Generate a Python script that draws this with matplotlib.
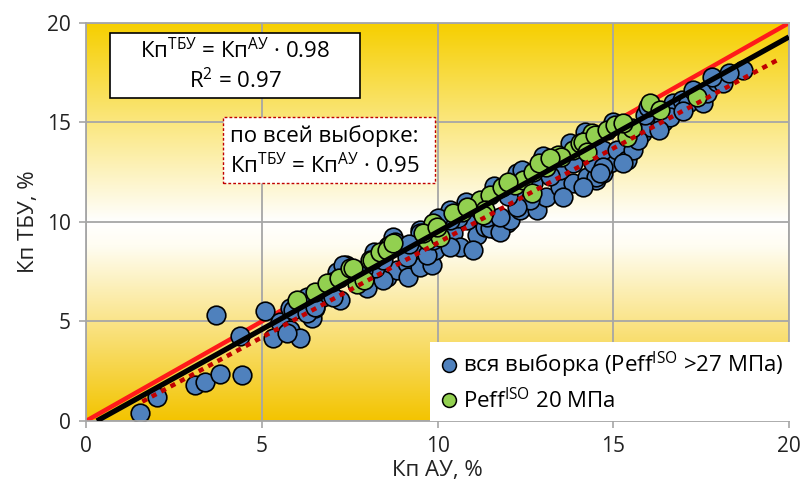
import numpy as np
import matplotlib
matplotlib.use("Agg")
import matplotlib.pyplot as plt
from matplotlib.colors import LinearSegmentedColormap
from matplotlib.patches import Rectangle
from matplotlib.lines import Line2D

plt.rcParams["font.family"] = ["Open Sans", "DejaVu Sans"]
plt.rcParams["mathtext.fontset"] = "custom"
plt.rcParams["mathtext.rm"] = "Open Sans"
plt.rcParams["mathtext.it"] = "Open Sans:italic"
plt.rcParams["mathtext.bf"] = "Open Sans:bold"

# ── data: Кп by AU (x) vs Кп by TBU (y), % ───────────────────────────────────
blue_x = [1.54, 2.01, 3.10, 3.39, 3.81, 4.44, 3.70, 4.38, 5.09, 5.32, 5.52, 5.80,
          6.09, 6.43, 6.52, 7.23, 5.72, 5.80, 6.29, 7.14, 7.40, 8.00, 5.89, 6.29,
          6.74, 7.03, 7.30, 7.50, 8.73, 8.79, 8.56, 8.85, 9.13, 9.16, 9.50, 9.84,
          9.93, 9.50, 8.45, 7.74, 6.50, 8.22, 9.42, 9.50, 10.44, 10.64, 11.12, 11.35,
          11.69, 11.98, 10.84, 11.00, 10.36, 9.70, 9.13, 8.45, 7.88, 10.36, 10.58, 11.50,
          11.78, 12.06, 12.35, 12.83, 13.10, 13.49, 13.86, 14.25, 14.50, 12.26, 12.72, 13.86,
          9.87, 10.36, 11.40, 11.78, 12.30, 13.49, 14.60, 14.50, 14.14, 13.57, 12.63, 12.26,
          15.40, 15.20, 14.90, 14.70, 13.77, 13.86, 14.42, 14.70, 14.70, 15.10, 15.39, 15.56,
          15.82, 16.05, 16.24, 16.41, 16.70, 16.95, 17.13, 17.27, 17.55, 17.67, 17.95, 18.12,
          18.69, 14.62, 15.28, 15.90, 16.61, 8.60, 10.00, 10.80, 11.60, 12.40, 13.00, 14.20,
          15.00, 16.00, 17.80, 18.30, 12.00, 11.20, 13.20, 9.20, 8.20, 7.00, 16.30, 15.70,
          17.00]
blue_y = [0.40, 1.21, 1.81, 1.96, 2.36, 2.31, 5.33, 4.27, 5.53, 4.17, 4.97, 4.57,
          4.17, 5.18, 5.68, 6.08, 4.42, 5.68, 6.23, 7.49, 7.84, 6.70, 5.58, 5.43,
          6.23, 6.23, 7.84, 7.59, 9.25, 9.00, 7.24, 7.59, 7.94, 7.24, 7.74, 7.84,
          8.59, 9.60, 7.09, 6.98, 5.73, 7.69, 8.74, 9.45, 9.45, 8.74, 9.35, 9.75,
          9.60, 9.95, 10.10, 8.60, 8.74, 8.34, 8.24, 8.09, 7.59, 10.60, 10.20, 9.70,
          9.50, 10.10, 10.60, 10.60, 11.26, 11.76, 11.96, 12.26, 12.10, 12.46, 11.96, 13.10,
          9.10, 10.10, 10.25, 10.25, 11.26, 12.60, 13.27, 12.26, 11.76, 11.26, 11.10, 10.75,
          13.27, 13.47, 12.96, 12.46, 13.97, 12.96, 12.96, 13.62, 12.76, 13.62, 13.12, 13.62,
          14.47, 14.77, 15.28, 15.03, 15.98, 16.13, 15.98, 16.63, 15.98, 16.48, 17.03, 16.98,
          17.64, 12.46, 12.96, 15.38, 15.28, 8.80, 10.20, 11.00, 11.80, 12.60, 13.30, 14.50,
          15.00, 15.80, 17.30, 17.50, 11.30, 10.60, 12.30, 8.90, 8.50, 7.00, 14.60, 14.10,
          15.60]

green_x = [6.00, 6.50, 6.86, 7.20, 7.50, 7.70, 7.90, 8.08, 8.14, 8.36, 8.65, 9.70,
           9.87, 8.56, 8.73, 10.07, 10.70, 11.20, 11.50, 11.83, 11.35, 9.59, 9.98, 10.44,
           10.84, 12.20, 12.43, 12.72, 13.10, 13.43, 13.86, 14.25, 14.40, 11.30, 12.69, 14.05,
           12.90, 13.50, 14.14, 14.48, 14.82, 15.05, 15.39, 15.53, 16.05, 16.33, 17.38, 14.25,
           15.28, 12.00, 13.20, 7.60]
green_y = [6.08, 6.50, 6.93, 7.20, 7.70, 6.90, 7.10, 8.09, 8.09, 8.49, 8.84, 9.10,
           9.95, 8.59, 8.94, 9.25, 10.50, 11.10, 11.36, 11.76, 10.60, 9.45, 9.75, 10.45,
           10.75, 11.86, 12.10, 12.50, 12.76, 13.37, 13.62, 14.12, 14.47, 10.35, 11.46, 13.97,
           12.96, 13.27, 14.02, 14.37, 14.62, 14.87, 14.27, 14.72, 15.98, 15.63, 16.28, 13.52,
           14.97, 12.00, 13.20, 7.69]

# fit lines
fit_all_k = 0.98      # black, Peff 20 MPa subset
fit_all_b = -0.30
fit_whole_k = 0.95    # dotted, whole sample
fit_whole_b = -0.55
r2 = 0.97

BLUE = "#4F81BD"
GREEN = "#92D050"
GRID = "#A6A6A6"
FS = 16

fig = plt.figure(figsize=(8.05, 4.9), dpi=100)
ax = fig.add_axes([0.107, 0.141, 0.873, 0.812])

# background: gold at top and bottom, white in the middle
bg = LinearSegmentedColormap.from_list(
    "bg", [(0.0, "#F3C400"), (0.44, "#FFFDF2"), (0.50, "#FFFFFF"), (1.0, "#F6CF00")])
grad = np.linspace(0, 1, 256).reshape(-1, 1)
ax.imshow(grad, cmap=bg, origin="lower", extent=[0, 20, 0, 20], aspect="auto", zorder=0)

ax.set_xlim(0, 20)
ax.set_ylim(0, 20)
ax.set_xticks([0, 5, 10, 15, 20])
ax.set_yticks([0, 5, 10, 15, 20])
ax.set_axisbelow(True)
ax.grid(True, color=GRID, lw=1.3)
for s in ax.spines.values():
    s.set_color(GRID)
    s.set_linewidth(1.3)
ax.tick_params(length=5, width=1.2, color=GRID, labelsize=15, labelcolor="#222222", pad=6)

# y = x reference, drawn under the points
ax.plot([0, 20], [0, 20], color="#FF1A1A", lw=3.2, zorder=1, solid_capstyle="butt")

ax.scatter(blue_x, blue_y, s=180, c=BLUE, edgecolors="black", linewidths=1.2, zorder=2)
ax.scatter(green_x, green_y, s=180, c=GREEN, edgecolors="black", linewidths=1.2, zorder=3)

xb = np.array([-fit_all_b / fit_all_k, 20])
ax.plot(xb, fit_all_k * xb + fit_all_b, color="black", lw=3.8, zorder=4,
        solid_capstyle="butt")
xd = np.array([1.6, 19.7])
ax.plot(xd, fit_whole_k * xd + fit_whole_b, color="#C00000", lw=3.2, zorder=5,
        linestyle=(0, (1.2, 1.2)))

ax.set_xlabel("Кп АУ, %", fontsize=FS, labelpad=2, color="#222222")
ax.set_ylabel("Кп ТБУ, %", fontsize=FS, labelpad=6, color="#222222")

# equation boxes
ax.add_patch(Rectangle((0.034, 0.812), 0.356, 0.163, transform=ax.transAxes,
                       facecolor="white", edgecolor="black", lw=1.2, zorder=6))
ax.text(0.212, 0.930, f"Кп$^{{\\mathrm{{ТБУ}}}}$ = Кп$^{{\\mathrm{{АУ}}}}$ · {fit_all_k:.2f}",
        transform=ax.transAxes, ha="center", va="center", fontsize=FS, zorder=7)
ax.text(0.212, 0.855, f"R$^{{2}}$ = {r2:.2f}",
        transform=ax.transAxes, ha="center", va="center", fontsize=FS, zorder=7)

ax.add_patch(Rectangle((0.195, 0.598), 0.301, 0.166, transform=ax.transAxes,
                       facecolor="white", edgecolor="#C00000", lw=1.0,
                       linestyle=(0, (2, 1.5)), zorder=6))
ax.text(0.205, 0.717, "по всей выборке:",
        transform=ax.transAxes, ha="left", va="center", fontsize=FS, zorder=7)
ax.text(0.205, 0.642, f"Кп$^{{\\mathrm{{ТБУ}}}}$ = Кп$^{{\\mathrm{{АУ}}}}$ · {fit_whole_k:.2f}",
        transform=ax.transAxes, ha="left", va="center", fontsize=FS, zorder=7)

handles = [
    Line2D([], [], ls="none", marker="o", ms=10, mfc=BLUE, mec="black", mew=1.1),
    Line2D([], [], ls="none", marker="o", ms=10, mfc=GREEN, mec="black", mew=1.1),
]
labels = ["вся выборка (Peff$^{\\mathrm{ISO}}$ >27 МПа)", "Peff$^{\\mathrm{ISO}}$ 20 МПа"]
leg = ax.legend(handles, labels, loc="lower right", bbox_to_anchor=(1.003, 0.0),
                fontsize=FS, frameon=True, fancybox=False, framealpha=1,
                facecolor="white", edgecolor="none", handletextpad=0.1,
                borderpad=0.35, labelspacing=0.35, handlelength=1.0, borderaxespad=0.0)
leg.set_zorder(8)

fig.savefig("out.png", dpi=100)
